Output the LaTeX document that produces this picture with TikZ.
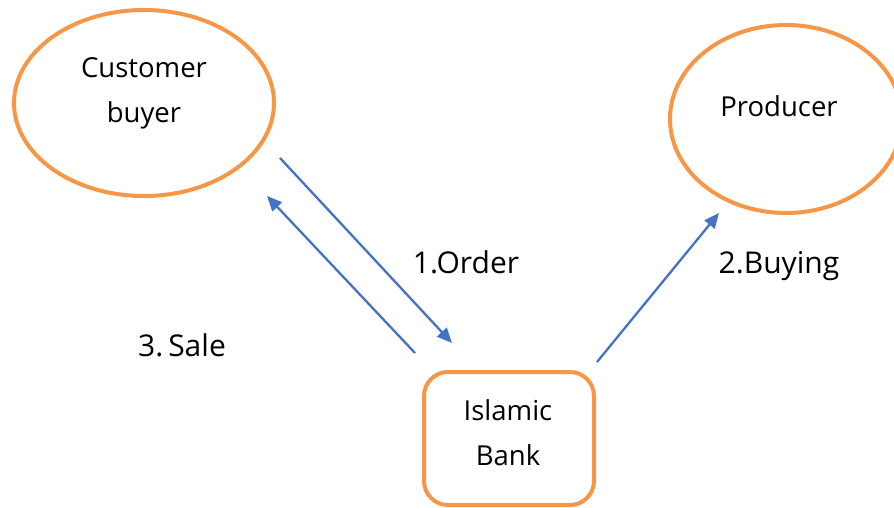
\documentclass[tikz,border=0pt]{standalone}
\usepackage{fontspec}
\setmainfont{Open Sans}
\usetikzlibrary{shapes.geometric,arrows.meta}
\definecolor{frameorange}{RGB}{247,150,70}
\definecolor{flowblue}{RGB}{68,114,196}
\tikzset{
  party/.style={ellipse, draw=frameorange, line width=4pt, inner sep=0pt},
  bankbox/.style={rectangle, rounded corners=24pt, draw=frameorange, line width=4pt,
    inner sep=0pt},
  boxtext/.style={align=center, inner sep=0pt, font=\fontsize{27.5}{45}\selectfont},
  flow/.style={draw=flowblue, line width=2.3pt, -{Triangle[length=15pt,width=13pt]}},
  steplabel/.style={font=\fontsize{30}{32}\selectfont, inner sep=0pt, anchor=base}
}
\begin{document}
\begin{tikzpicture}[x=1pt,y=-1pt]
  \useasboundingbox (0,0) rectangle (894,508);
  \clip (0,0) rectangle (894,508);

  % parties
  \node[party, minimum width=260pt, minimum height=186pt] (customer) at (144,103) {};
  \node[boxtext] (customertext) at (144,93) {Customer\\buyer};
  \node[party, minimum width=232pt, minimum height=188pt] (producer) at (786,119) {};
  \node[boxtext] (producertext) at (779,106) {Producer};
  \node[bankbox, minimum width=170pt, minimum height=133pt] (bank) at (509,438.5) {};
  \node[boxtext] (banktext) at (508,433) {Islamic\\Bank};

  % arrow end points
  \coordinate (orderstart) at (280,158);
  \coordinate (orderend) at (452,343);
  \coordinate (salestart) at (415,353);
  \coordinate (saleend) at (267,196);
  \coordinate (buystart) at (597,362);
  \coordinate (buyend) at (719,213);

  % flows
  \draw[flow] (orderstart) -- (orderend);
  \draw[flow] (salestart) -- (saleend);
  \draw[flow] (buystart) -- (buyend);

  % step labels, placed on their baselines
  \node[steplabel] (orderlabel) at (466,273) {1.Order};
  \node[steplabel] (buylabel) at (779,273) {2.Buying};
  \node[steplabel] (salelabel) at (182,356) {3.\,Sale};
\end{tikzpicture}
\end{document}
